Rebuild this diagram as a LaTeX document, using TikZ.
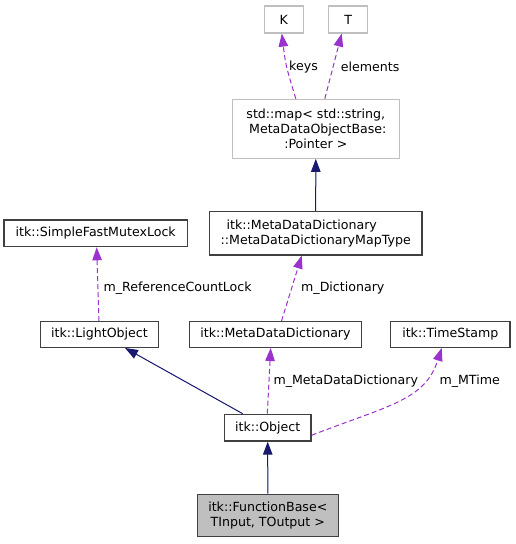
\documentclass[tikz,border=0pt]{standalone}
\usepackage{fontspec}
\setmainfont{DejaVu Sans}
\usetikzlibrary{arrows.meta,calc}
\definecolor{navy}{RGB}{25,25,112}
\definecolor{orchid}{RGB}{154,50,205}
\definecolor{lgray}{RGB}{191,191,191}
\definecolor{dgray}{RGB}{64,64,64}
\begin{document}
\begin{tikzpicture}[x=1pt,y=-1pt,
  every node/.style={font=\fontsize{12.6}{15}\selectfont, inner sep=0pt},
  cls/.style={draw=dgray, line width=1.3pt, fill=white, rectangle, align=center},
  ext/.style={draw=lgray, line width=1.2pt, fill=white, rectangle, align=center},
  cur/.style={draw=dgray, line width=1.3pt, fill=lgray, rectangle, align=center},
  inh/.style={draw=navy, line width=1pt, -{Triangle[length=13pt,width=9.5pt]}, fill=navy},
  use/.style={draw=orchid, line width=1pt, dash pattern=on 5pt off 3pt, -{Triangle[length=13pt,width=9.5pt]}},
  lbl/.style={anchor=west, text=black}]
\useasboundingbox (0,0) rectangle (515,544);

\node[ext, minimum width=39pt, minimum height=27pt] (K) at (283.8,19.5) {K};
\node[ext, minimum width=39pt, minimum height=27pt] (T) at (348.2,19.5) {T};
\node[ext, minimum width=167pt, minimum height=59pt] (map) at (315.8,128.8)
  {std::map< std::string,\\\hspace*{4pt}MetaDataObjectBase:\\:Pointer >};
\node[cls, minimum width=212.7pt, minimum height=43.3pt, align=left] (maptype) at (315.7,233.3)
  {\hspace*{6pt}itk::MetaDataDictionary\\::MetaDataDictionaryMapType};
\node[cls, minimum width=183.3pt, minimum height=26.7pt] (sfml) at (95.7,233.3) {itk::SimpleFastMutexLock};
\node[cls, minimum width=117.6pt, minimum height=25.6pt] (light) at (99.5,334.5) {itk::LightObject};
\node[cls, minimum width=172.4pt, minimum height=25.6pt] (mdd) at (275.5,334.5) {itk::MetaDataDictionary};
\node[cls, minimum width=119.3pt, minimum height=25.6pt] (ts) at (450.3,334.5) {itk::TimeStamp};
\node[cls, minimum width=86.7pt, minimum height=26.7pt] (obj) at (267.7,427.7) {itk::Object};
\node[cur, minimum width=141pt, minimum height=42.4pt] (fb) at (267.8,515.5)
  {itk::FunctionBase<\\TInput, TOutput >};

% inheritance
\draw[inh] (maptype.north) -- (map.south);
\draw[inh] ([xshift=-25pt]obj.north) -- ([xshift=25.5pt]light.south);
\draw[inh] (fb.north) -- (obj.south);

% usage
\draw[use] ([xshift=-20pt]map.north) .. controls ([xshift=-30pt,yshift=33pt]map.north) .. ([xshift=-2pt]K.south);
\draw[use] ([xshift=9pt]map.north) -- ([xshift=-6.5pt]T.south);
\draw[use] ([xshift=-0.5pt]light.north) -- ([xshift=1pt]sfml.south);
\draw[use] ([xshift=6pt]mdd.north) -- ([xshift=-14pt]maptype.south);
\draw[use] ([xshift=-0.4pt]obj.north) -- ([xshift=-4.8pt]mdd.south);
\draw[use] ([yshift=-7.5pt]obj.east) .. controls (390,405) and (425,400) .. ([xshift=-8.6pt]ts.south);

% labels
\node[lbl] (lkeys) at (289,66.7) {keys};
\node[lbl] (lelem) at (340.7,66.7) {elements};
\node[lbl] (lref) at (103.3,288.3) {m\_ReferenceCountLock};
\node[lbl] (ldict) at (301,288.3) {m\_Dictionary};
\node[lbl] (lmdd) at (273.3,380.7) {m\_MetaDataDictionary};
\node[lbl] (lmt) at (439.3,380.7) {m\_MTime};
\end{tikzpicture}
\end{document}
